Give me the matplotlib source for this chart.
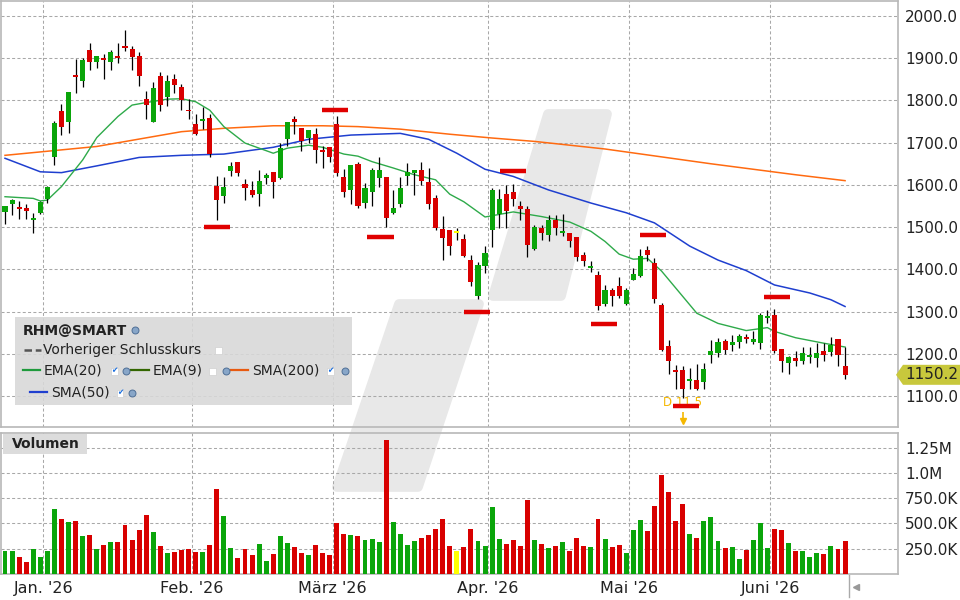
import numpy as np
import matplotlib
matplotlib.use('Agg')
import matplotlib.pyplot as plt
from matplotlib.patches import Polygon, Rectangle
from matplotlib.lines import Line2D

# ---- daily candles (bar index 0..119) ----
opens = [1536, 1555, 1548, 1545, 1517, 1534, 1567, 1667, 1775, 1750,
         1860, 1847, 1919, 1890, 1900, 1892, 1905, 1930, 1923, 1905,
         1803, 1750, 1858, 1808, 1851, 1832, 1778, 1744, 1752, 1758,
         1598, 1574, 1633, 1655, 1601, 1588, 1579, 1617, 1631, 1617,
         1708, 1756, 1734, 1711, 1721, 1683, 1689, 1744, 1618, 1589,
         1650, 1558, 1582, 1617, 1618, 1534, 1554, 1620, 1628, 1636,
         1607, 1569, 1496, 1494, 1489, 1471, 1422, 1336, 1409, 1492,
         1531, 1579, 1584, 1550, 1544, 1448, 1498, 1482, 1517, 1486,
         1487, 1476, 1434, 1404, 1387, 1318, 1351, 1361, 1318, 1374,
         1385, 1446, 1415, 1316, 1219, 1162, 1162, 1135, 1137, 1132,
         1196, 1203, 1231, 1220, 1227, 1240, 1229, 1225, 1284, 1292,
         1212, 1178, 1190, 1184, 1193, 1191, 1207, 1205, 1236, 1172]
highs = [1550, 1566, 1562, 1555, 1534, 1562, 1598, 1751, 1791, 1820,
         1897, 1900, 1935, 1905, 1909, 1919, 1935, 1967, 1929, 1914,
         1823, 1843, 1868, 1860, 1862, 1840, 1804, 1768, 1785, 1767,
         1620, 1618, 1655, 1655, 1615, 1610, 1636, 1629, 1631, 1699,
         1749, 1764, 1734, 1730, 1734, 1692, 1689, 1763, 1637, 1648,
         1655, 1604, 1640, 1666, 1618, 1588, 1618, 1653, 1636, 1655,
         1640, 1576, 1527, 1494, 1498, 1483, 1434, 1417, 1456, 1592,
         1590, 1600, 1602, 1561, 1549, 1505, 1505, 1529, 1529, 1531,
         1487, 1476, 1442, 1420, 1395, 1363, 1355, 1383, 1355, 1403,
         1449, 1456, 1426, 1320, 1232, 1174, 1170, 1166, 1176, 1178,
         1233, 1238, 1236, 1245, 1247, 1247, 1255, 1296, 1304, 1307,
         1212, 1195, 1206, 1216, 1216, 1225, 1225, 1239, 1236, 1216]
lows = [1508, 1529, 1520, 1519, 1486, 1530, 1556, 1647, 1718, 1724,
        1818, 1833, 1872, 1878, 1851, 1871, 1888, 1917, 1871, 1835,
        1757, 1750, 1776, 1787, 1817, 1777, 1757, 1718, 1733, 1665,
        1517, 1558, 1620, 1620, 1565, 1571, 1551, 1602, 1568, 1613,
        1691, 1721, 1681, 1699, 1653, 1641, 1655, 1620, 1572, 1555,
        1545, 1545, 1550, 1594, 1500, 1531, 1547, 1600, 1576, 1600,
        1544, 1494, 1423, 1434, 1470, 1429, 1361, 1330, 1391, 1454,
        1499, 1499, 1549, 1516, 1429, 1445, 1470, 1468, 1482, 1479,
        1454, 1419, 1409, 1393, 1304, 1314, 1312, 1332, 1316, 1374,
        1383, 1419, 1321, 1206, 1153, 1116, 1095, 1116, 1115, 1116,
        1178, 1193, 1200, 1206, 1213, 1225, 1224, 1212, 1274, 1203,
        1156, 1153, 1172, 1176, 1178, 1168, 1182, 1194, 1172, 1140]
closes = [1549, 1564, 1543, 1538, 1522, 1560, 1595, 1746, 1738, 1820,
          1856, 1896, 1890, 1905, 1896, 1914, 1900, 1925, 1904, 1859,
          1789, 1830, 1789, 1846, 1837, 1800, 1774, 1721, 1756, 1673,
          1565, 1596, 1645, 1628, 1593, 1575, 1609, 1624, 1608, 1688,
          1748, 1748, 1704, 1730, 1683, 1677, 1665, 1629, 1584, 1647,
          1549, 1593, 1636, 1636, 1521, 1546, 1593, 1631, 1636, 1610,
          1554, 1499, 1475, 1456, 1489, 1432, 1371, 1411, 1438, 1588,
          1567, 1539, 1566, 1544, 1458, 1500, 1485, 1517, 1497, 1490,
          1468, 1430, 1419, 1408, 1314, 1350, 1338, 1336, 1350, 1389,
          1432, 1434, 1330, 1209, 1182, 1158, 1117, 1140, 1117, 1164,
          1207, 1228, 1208, 1229, 1243, 1236, 1234, 1292, 1290, 1206,
          1184, 1192, 1184, 1202, 1198, 1202, 1198, 1221, 1196, 1150.2]
volumes_k = [226, 226, 167, 118, 245, 167, 226, 638, 540, 510,
             520, 373, 383, 249, 285, 314, 314, 481, 334, 432,
             579, 412, 275, 206, 216, 236, 245, 216, 216, 285,
             844, 569, 255, 157, 245, 186, 294, 128, 196, 373,
             304, 265, 206, 186, 285, 206, 186, 501, 393, 383,
             373, 334, 344, 314, 1325, 510, 393, 285, 324, 353,
             383, 442, 540, 275, 226, 265, 442, 324, 275, 667,
             344, 294, 334, 275, 736, 334, 294, 255, 275, 314,
             226, 353, 275, 265, 540, 344, 265, 285, 206, 432,
             530, 422, 677, 982, 815, 520, 697, 393, 353, 520,
             560, 324, 255, 265, 147, 236, 334, 500, 255, 442,
             432, 304, 226, 226, 167, 206, 196, 275, 245, 324]

month_first_bar = [6, 27, 47, 69, 89, 109]
month_labels = ["Jan. '26", "Feb. '26", "März '26", "Apr. '26", "Mai '26", "Juni '26"]

# indicator lines, sampled off the chart
ema20_idx = [0, 4, 5, 6, 8, 11, 13, 16, 18, 20, 23, 25, 27, 29, 31, 34, 38, 40, 43, 45,
             48, 50, 52, 55, 58, 61, 63, 65, 68, 69, 71, 72, 76, 80, 83, 85, 87, 89, 91, 93,
             96, 98, 101, 105, 108, 109, 112, 116, 119]
ema20_val = [1572, 1568, 1562, 1564, 1596, 1659, 1712, 1762, 1789, 1795, 1803, 1804, 1797, 1777, 1738, 1699, 1675, 1687, 1694, 1689,
             1673, 1668, 1655, 1640, 1624, 1612, 1578, 1560, 1524, 1527, 1533, 1536, 1525, 1512, 1490, 1466, 1436, 1424, 1426, 1396,
             1336, 1296, 1272, 1255, 1262, 1253, 1238, 1225, 1216]
sma50_idx = [0, 5, 8, 13, 19, 25, 31, 38, 43, 49, 56, 60, 64, 68, 72, 77, 83, 88, 92, 97,
             101, 105, 109, 114, 117, 119]
sma50_val = [1663, 1631, 1629, 1645, 1665, 1670, 1673, 1689, 1708, 1718, 1722, 1708, 1675, 1637, 1620, 1588, 1557, 1534, 1510, 1455,
             1422, 1397, 1363, 1344, 1328, 1312]
sma200_idx = [0, 13, 25, 31, 38, 45, 50, 56, 63, 69, 75, 85, 100, 112, 119]
sma200_val = [1670, 1691, 1726, 1734, 1740, 1740, 1738, 1732, 1720, 1711, 1703, 1685, 1650, 1624, 1610]

# red signal markers (bar position, price level)
marker_idx = [30.0, 46.8, 53.2, 66.9, 71.9, 84.8, 91.8, 96.5, 109.4]
marker_price = [1501, 1777, 1477, 1299, 1633, 1271, 1482, 1077, 1335]

dividend_idx = 96
dividend_text = 'D 11.5'
ticker = 'RHM@SMART'

GREEN = '#0aa50a'
RED = '#d80000'
YELLOW = '#ffff00'
GRID = '#a8a8a8'
BORDER = '#b8b8b8'

W, H = 960, 600


def fx(x):
    return x / W


def fy(y):
    return 1 - y / H


def axes_rect(left, top, right, bottom):
    return [fx(left), fy(bottom), (right - left) / W, (bottom - top) / H]


def candle_color(o, c):
    if c > o:
        return GREEN
    if c < o:
        return RED
    return YELLOW


def vol_label(v):
    if v >= 1e6:
        s = f'{v / 1e6:.2f}'.rstrip('0')
        if s.endswith('.'):
            s += '0'
        return s + 'M'
    return f'{v / 1e3:.1f}K'


def style_axes(ax):
    ax.set_facecolor('none')
    for sp in ax.spines.values():
        sp.set_color(BORDER)
        sp.set_linewidth(1.2)
    ax.grid(True, color=GRID, linewidth=0.75, linestyle=(0, (2.9, 2.2)))
    ax.set_axisbelow(True)
    ax.yaxis.tick_right()
    ax.tick_params(axis='y', length=0, pad=5, labelsize=11, labelcolor='#222222')


o = np.array(opens, dtype=float)
c = np.array(closes, dtype=float)
hi = np.array(highs, dtype=float)
lo = np.array(lows, dtype=float)
vol = np.array(volumes_k, dtype=float) * 1000
x = np.arange(len(o))
colors = [candle_color(a, b) for a, b in zip(o, c)]

fig = plt.figure(figsize=(9.6, 6), dpi=100)
fig.patch.set_facecolor('white')

# watermark logo behind both panels
wm_upper = [(548, 114), (607, 114), (561, 296), (493, 296)]
wm_lower = [(399, 304), (479, 304), (418, 487), (337, 487)]
for pts in (wm_upper, wm_lower):
    fig.add_artist(Polygon([(fx(a), fy(b)) for a, b in pts], closed=True,
                           fc='#e8e8e8', ec='#e8e8e8', lw=7, joinstyle='round',
                           transform=fig.transFigure, zorder=-1))

ax = fig.add_axes(axes_rect(1, 1, 898, 427))
axv = fig.add_axes(axes_rect(1, 433, 898, 574), sharex=ax)
style_axes(ax)
style_axes(axv)

# candles
body_h = np.maximum(np.abs(c - o), 4)
body_bottom = np.minimum(o, c) - (body_h - np.abs(c - o)) / 2
ax.vlines(x, lo, hi, color='black', linewidth=0.9, zorder=3)
ax.bar(x, body_h, bottom=body_bottom, width=0.72, color=colors, linewidth=0, zorder=4)

ax.plot(sma200_idx, sma200_val, color='#ff6a10', linewidth=1.1, zorder=2.5)
ax.plot(sma50_idx, sma50_val, color='#1f3fcf', linewidth=1.1, zorder=2.5)
ax.plot(ema20_idx, ema20_val, color='#2eaa4a', linewidth=1.0, zorder=2.6)

ax.hlines(marker_price, np.array(marker_idx) - 1.85, np.array(marker_idx) + 1.85,
          color='#e00000', linewidth=3.2, zorder=6)

ax.set_xlim(-0.567, 126.5)
ax.set_ylim(1026.6, 2035.5)
price_ticks = np.arange(1100, 2001, 100)
ax.set_yticks(price_ticks)
ax.set_yticklabels([f'{v:.1f}' for v in price_ticks])

# dividend tag and arrow
ax.text(dividend_idx, 1084, dividend_text, color='#f5b800', fontsize=8.5,
        ha='center', va='center', zorder=5)
ax.vlines(dividend_idx, 1044, 1063, color='#f5b800', linewidth=1.2, zorder=5)
ax.plot([dividend_idx], [1041], marker='v', color='#f5b800', markersize=5, zorder=5)

month_grid = np.array(month_first_bar) - 0.57
ax.set_xticks(month_grid)
ax.tick_params(axis='x', length=0, labelbottom=False)

# volume
axv.bar(x, vol, width=0.7, color=colors, linewidth=0, zorder=3)
axv.set_ylim(0, 1.394e6)
vol_ticks = [250e3, 500e3, 750e3, 1.0e6, 1.25e6]
axv.set_yticks(vol_ticks)
axv.set_yticklabels([vol_label(v) for v in vol_ticks])
axv.set_xticks(month_grid)
axv.set_xticklabels(month_labels)
axv.tick_params(axis='x', length=0, pad=5, labelsize=11.5, labelcolor='#222222', labelbottom=True)
axv.set_xlim(-0.567, 126.5)

# last price tag
tag_y = fig.transFigure.inverted().transform(ax.transData.transform((0, closes[-1])))[1]
hh = 10 / H
fig.add_artist(Polygon([(fx(896), tag_y), (fx(903), tag_y + hh), (fx(960), tag_y + hh),
                        (fx(960), tag_y - hh), (fx(903), tag_y - hh)], closed=True,
                       fc='#c8c83c', ec='none', transform=fig.transFigure, zorder=8))
fig.text(fx(905), tag_y, f'{closes[-1]:.1f}', fontsize=11, color='#222222',
         va='center', ha='left', zorder=9)

# legend box
fig.add_artist(Rectangle((fx(15), fy(405)), (352 - 15) / W, (405 - 317) / H,
                         fc='#d8d8d8', ec='none', alpha=0.88,
                         transform=fig.transFigure, zorder=6))


def fig_line(x0, x1, y, color, lw=1.6, ls='-'):
    fig.add_artist(Line2D([fx(x0), fx(x1)], [fy(y), fy(y)], color=color, lw=lw, ls=ls,
                          transform=fig.transFigure, zorder=7))


def fig_label(xp, yp, s, **kw):
    fig.text(fx(xp), fy(yp), s, va='center', ha='left', zorder=8, color='#222222', **kw)


def check_box(xp, yp, checked):
    fig.add_artist(Rectangle((fx(xp - 3.5), fy(yp + 3.5)), 7 / W, 7 / H, fc='white',
                             ec='#d0d0d0', lw=0.5, transform=fig.transFigure, zorder=8))
    if checked:
        fig.text(fx(xp), fy(yp), '\u2714', color='#1a6fe0', fontsize=5.5,
                 ha='center', va='center', zorder=9)


def globe(xp, yp):
    fig.add_artist(Line2D([fx(xp)], [fy(yp)], marker='o', ms=5, mfc='#88a6c8',
                          mec='#4f6f96', mew=0.7, transform=fig.transFigure, zorder=8))


fig_label(23, 331, ticker, fontsize=10, fontweight='bold')
globe(135, 330)

fig_line(24, 41, 350, '#555555', lw=1.8, ls=(0, (3, 1.5)))
fig_label(43, 350, 'Vorheriger Schlusskurs', fontsize=10)
check_box(218, 350, False)

fig_line(23, 40, 370, '#1e9a3c')
fig_label(44, 371, 'EMA(20)', fontsize=10)
check_box(114, 371, True)
globe(126, 371)
fig_line(131, 149, 370, '#336600')
fig_label(153, 371, 'EMA(9)', fontsize=10)
check_box(212, 371, False)
globe(226, 371)
fig_line(231, 248, 370, '#e85a10')
fig_label(252, 371, 'SMA(200)', fontsize=10)
check_box(330, 371, True)
globe(345, 371)

fig_line(30, 47, 392, '#1f3fcf')
fig_label(51, 393, 'SMA(50)', fontsize=10)
check_box(120, 393, True)
globe(132, 393)

# volume panel title
fig.add_artist(Rectangle((fx(3), fy(454)), 84 / W, 20 / H, fc='#dcdcdc', ec='none',
                         transform=fig.transFigure, zorder=6))
fig.text(fx(12), fy(444.5), 'Volumen', fontsize=10, fontweight='bold', color='#222222',
         va='center', ha='left', zorder=7)

# scroll handle at bottom right
fig.add_artist(Line2D([fx(849), fx(849)], [fy(575), fy(597)], color='#aaaaaa', lw=1,
                      transform=fig.transFigure, zorder=7))
fig.add_artist(Line2D([fx(856)], [fy(587)], marker='<', ms=4, color='#999999',
                      transform=fig.transFigure, zorder=7))

fig.savefig('out.png', dpi=100, facecolor='white')
